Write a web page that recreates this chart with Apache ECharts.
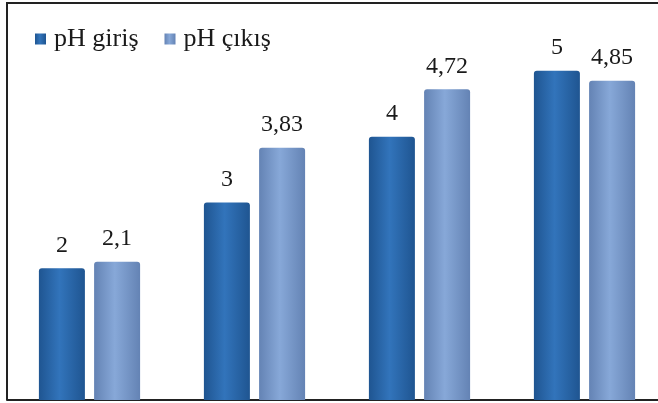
<!DOCTYPE html>
<html>
<head>
<meta charset="utf-8">
<script src="https://cdn.jsdelivr.net/npm/echarts@6/dist/echarts.min.js"></script>
<style>
  html, body { margin: 0; padding: 0; background: #fff; }
  #chart { width: 658px; height: 403px; }
</style>
</head>
<body>
<div id="chart"></div>
<script>
// veriler
var categories = ['1', '2', '3', '4'];
var phGiris = [2, 3, 4, 5];
var phCikis = [2.1, 3.83, 4.72, 4.85];
var seriesNames = ['pH giriş', 'pH çıkış'];

function barColor(edge, mid) {
  return {
    type: 'linear', x: 0, y: 0, x2: 1, y2: 0,
    colorStops: [
      { offset: 0, color: edge },
      { offset: 0.45, color: mid },
      { offset: 1, color: edge }
    ]
  };
}

var labelFont = {
  show: true,
  position: 'top',
  distance: 11,
  fontFamily: 'Liberation Serif',
  fontSize: 24,
  color: '#1a1a1a',
  formatter: function (p) { return String(p.value).replace('.', ','); }
};

var myChart = echarts.init(document.getElementById('chart'));
myChart.setOption({
  animation: false,
  grid: { left: 7, width: 660, top: 5, bottom: 3, outerBoundsMode: 'none', containLabel: false },
  legend: {
    left: 30,
    top: 21,
    itemWidth: 11,
    itemHeight: 11,
    itemGap: 26,
    icon: 'rect',
    textStyle: { fontFamily: 'Liberation Serif', fontSize: 26, color: '#1a1a1a', padding: [0, 0, 0, 3] },
    data: seriesNames
  },
  xAxis: {
    type: 'category',
    data: categories,
    axisLine: { lineStyle: { color: '#222', width: 2 } },
    axisTick: { show: false },
    axisLabel: { show: false }
  },
  yAxis: {
    type: 'value',
    min: 0,
    max: 6,
    show: false,
    splitLine: { show: false }
  },
  graphic: [
    {
      type: 'polyline',
      shape: { points: [[7, 400], [7, 3], [660, 3]] },
      style: { stroke: '#222', lineWidth: 2, fill: null }
    }
  ],
  series: [
    {
      name: seriesNames[0],
      type: 'bar',
      data: phGiris,
      barWidth: 46,
      barGap: '20%',
      itemStyle: { color: barColor('#1f5591', '#3274bb'), borderRadius: [3, 3, 0, 0] },
      label: labelFont
    },
    {
      name: seriesNames[1],
      type: 'bar',
      data: phCikis,
      barWidth: 46,
      itemStyle: { color: barColor('#6483b4', '#87a8d8'), borderRadius: [3, 3, 0, 0] },
      label: labelFont
    }
  ]
});
</script>
</body>
</html>
